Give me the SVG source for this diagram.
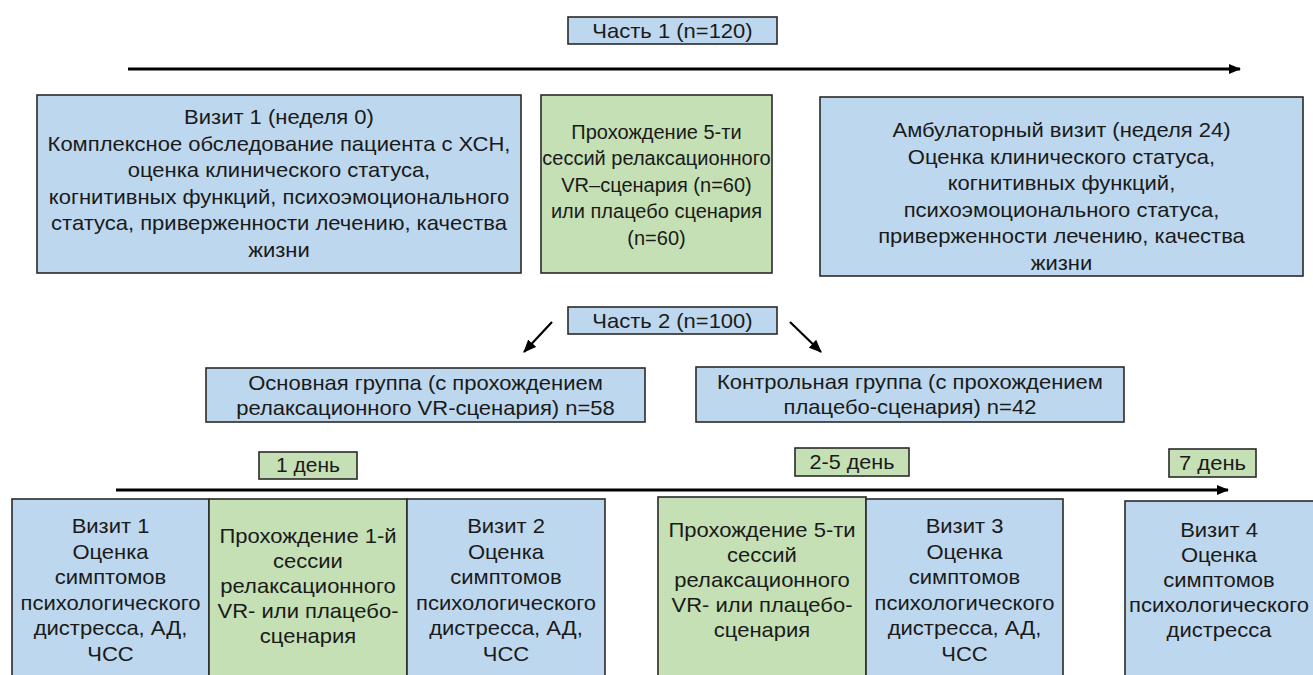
<svg xmlns="http://www.w3.org/2000/svg" width="1313" height="675" viewBox="0 0 1313 675">
<style>
.b{fill:#BDD7EE;stroke:#2a2a2a;stroke-width:1.6}
.g{fill:#C5E0B4;stroke:#2a2a2a;stroke-width:1.6}
text{font-family:"Liberation Sans",Arial,sans-serif;font-size:20px;fill:#1a1a1a;text-anchor:middle}
.ln{stroke:#000;stroke-width:3;fill:none}
.dl{stroke:#000;stroke-width:2.2;fill:none}
</style>
<defs>
<marker id="ah" markerUnits="userSpaceOnUse" markerWidth="12" markerHeight="10" refX="11" refY="5" orient="auto">
<path d="M0,0 L12,5 L0,10 Z" fill="#000"/>
</marker>
<marker id="ah2" markerUnits="userSpaceOnUse" markerWidth="13" markerHeight="11" refX="12" refY="5.5" orient="auto">
<path d="M0,0 L13,5.5 L0,11 Z" fill="#000"/>
</marker>
</defs>
<g id="connectors">
<line class="ln" x1="128" y1="69" x2="1240" y2="69" marker-end="url(#ah)"/>
<line class="ln" x1="116" y1="490" x2="1228" y2="490" marker-end="url(#ah)"/>
<line class="dl" x1="552" y1="322" x2="524" y2="352" marker-end="url(#ah2)"/>
<line class="dl" x1="790" y1="322" x2="821" y2="352" marker-end="url(#ah2)"/>
</g>
<g id="part1">
<rect class="b" x="568" y="17" width="209" height="27"/>
<g transform="translate(672.5 0) scale(1.1 1)"><text x="0" y="38">Часть 1 (n=120)</text></g>
</g>
<g id="visit1-week0">
<rect class="b" x="37" y="95" width="484" height="178"/>
<g transform="translate(279 0) scale(1.1 1)">
<text x="0" y="124">Визит 1 (неделя 0)</text>
<text x="0" y="151">Комплексное обследование пациента с ХСН,</text>
<text x="0" y="177">оценка клинического статуса,</text>
<text x="0" y="204">когнитивных функций, психоэмоционального</text>
<text x="0" y="230">статуса, приверженности лечению, качества</text>
<text x="0" y="257">жизни</text>
</g>
</g>
<g id="sessions5">
<rect class="g" x="541" y="95" width="231" height="178"/>
<text x="656.5" y="139">Прохождение 5-ти</text>
<text x="656.5" y="165">сессий релаксационного</text>
<text x="656.5" y="192">VR–сценария (n=60)</text>
<text x="656.5" y="218">или плацебо сценария</text>
<text x="656.5" y="245">(n=60)</text>
</g>
<g id="visit-week24">
<rect class="b" x="820" y="97" width="483" height="179"/>
<g transform="translate(1061.5 0) scale(1.1 1)">
<text x="0" y="137">Амбулаторный визит (неделя 24)</text>
<text x="0" y="164">Оценка клинического статуса,</text>
<text x="0" y="190.5">когнитивных функций,</text>
<text x="0" y="217">психоэмоционального статуса,</text>
<text x="0" y="243.5">приверженности лечению, качества</text>
<text x="0" y="270">жизни</text>
</g>
</g>
<g id="part2">
<rect class="b" x="568" y="307" width="209" height="27"/>
<g transform="translate(672.5 0) scale(1.1 1)"><text x="0" y="328">Часть 2 (n=100)</text></g>
</g>
<g id="main-group">
<rect class="b" x="206" y="368" width="439" height="54"/>
<g transform="translate(425.5 0) scale(1.1 1)">
<text x="0" y="390">Основная группа (с прохождением</text>
<text x="0" y="415">релаксационного VR-сценария) n=58</text>
</g>
</g>
<g id="control-group">
<rect class="b" x="696" y="367" width="428" height="55"/>
<g transform="translate(910 0) scale(1.1 1)">
<text x="0" y="389">Контрольная группа (с прохождением</text>
<text x="0" y="414">плацебо-сценария) n=42</text>
</g>
</g>
<g id="day1">
<rect class="g" x="259" y="452" width="98" height="27"/>
<g transform="translate(308 0) scale(1.05 1)"><text x="0" y="472">1 день</text></g>
</g>
<g id="day2-5">
<rect class="g" x="795" y="448" width="114" height="28"/>
<g transform="translate(852 0) scale(1.08 1)"><text x="0" y="469">2-5 день</text></g>
</g>
<g id="day7">
<rect class="g" x="1169" y="449" width="87" height="28"/>
<g transform="translate(1212.5 0) scale(1.1 1)"><text x="0" y="470">7 день</text></g>
</g>
<g id="visit1">
<rect class="b" x="12" y="499" width="197" height="185"/>
<g transform="translate(110.5 0) scale(1.1 1)">
<text x="0" y="533">Визит 1</text>
<text x="0" y="559">Оценка</text>
<text x="0" y="584">симптомов</text>
<text x="0" y="610">психологического</text>
<text x="0" y="635">дистресса, АД,</text>
<text x="0" y="661">ЧСС</text>
</g>
</g>
<g id="session1">
<rect class="g" x="209" y="499" width="198" height="185"/>
<g transform="translate(308 0) scale(1.1 1)">
<text x="0" y="543">Прохождение 1-й</text>
<text x="0" y="568">сессии</text>
<text x="0" y="593">релаксационного</text>
<text x="0" y="618">VR- или плацебо-</text>
<text x="0" y="643">сценария</text>
</g>
</g>
<g id="visit2">
<rect class="b" x="407" y="499" width="198" height="185"/>
<g transform="translate(506 0) scale(1.1 1)">
<text x="0" y="533">Визит 2</text>
<text x="0" y="559">Оценка</text>
<text x="0" y="584">симптомов</text>
<text x="0" y="610">психологического</text>
<text x="0" y="635">дистресса, АД,</text>
<text x="0" y="661">ЧСС</text>
</g>
</g>
<g id="sessions2-5">
<rect class="g" x="658" y="497" width="208" height="187"/>
<g transform="translate(762 0) scale(1.1 1)">
<text x="0" y="537">Прохождение 5-ти</text>
<text x="0" y="562">сессий</text>
<text x="0" y="587">релаксационного</text>
<text x="0" y="612">VR- или плацебо-</text>
<text x="0" y="637">сценария</text>
</g>
</g>
<g id="visit3">
<rect class="b" x="866" y="499" width="197" height="185"/>
<g transform="translate(964.5 0) scale(1.1 1)">
<text x="0" y="533">Визит 3</text>
<text x="0" y="559">Оценка</text>
<text x="0" y="584">симптомов</text>
<text x="0" y="610">психологического</text>
<text x="0" y="635">дистресса, АД,</text>
<text x="0" y="661">ЧСС</text>
</g>
</g>
<g id="visit4">
<rect class="b" x="1125" y="501" width="190" height="183"/>
<g transform="translate(1219 0) scale(1.1 1)">
<text x="0" y="537">Визит 4</text>
<text x="0" y="562">Оценка</text>
<text x="0" y="587">симптомов</text>
<text x="0" y="612">психологического</text>
<text x="0" y="637">дистресса</text>
</g>
</g>
</svg>
